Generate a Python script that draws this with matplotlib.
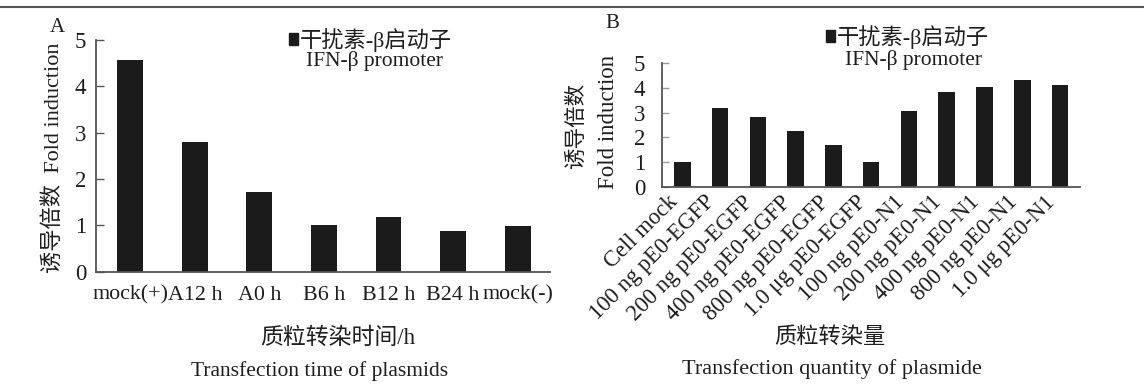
import matplotlib
matplotlib.use('Agg')
import matplotlib.pyplot as plt
from matplotlib.patches import Patch
from matplotlib.lines import Line2D
from matplotlib.transforms import ScaledTranslation

plt.rcParams['font.family'] = ['Liberation Serif', 'Noto Sans CJK SC']

# Panel A: transfection time
time_labels = ['mock(+)', 'A12 h', 'A0 h', 'B6 h', 'B12 h', 'B24 h', 'mock(-)']
time_values = [4.57, 2.80, 1.72, 1.00, 1.18, 0.87, 0.98]

# Panel B: transfection quantity
qty_labels = ['Cell mock', '100 ng pE0-EGFP', '200 ng pE0-EGFP', '400 ng pE0-EGFP',
              '800 ng pE0-EGFP', '1.0 μg pE0-EGFP', '100 ng pE0-N1', '200 ng pE0-N1',
              '400 ng pE0-N1', '800 ng pE0-N1', '1.0 μg pE0-N1']
qty_values = [1.01, 3.17, 2.81, 2.26, 1.69, 1.00, 3.08, 3.85, 4.03, 4.32, 4.12]

W, H = 1144, 388
TXT = '#1e1e1e'
BAR = '#1b1b1b'
AXC = '#555555'


def fx(px):
    return px / W


def fy(py):
    return 1 - py / H


def style_axes(ax, ypad, ysize):
    for s in ['top', 'right']:
        ax.spines[s].set_visible(False)
    for s in ['left', 'bottom']:
        ax.spines[s].set_color(AXC)
        ax.spines[s].set_linewidth(1.3)
    ax.set_ylim(0, 5)
    ax.set_yticks([0, 1, 2, 3, 4, 5])
    ax.tick_params(axis='y', direction='in', length=6, width=1.0, color=AXC,
                   pad=ypad, labelsize=ysize, labelcolor=TXT)
    ax.tick_params(axis='x', length=0, labelcolor=TXT)


fig = plt.figure(figsize=(W / 100, H / 100), dpi=100)
fig.patch.set_facecolor('white')

# rule at the top of the page
fig.add_artist(Line2D([0, 1], [fy(7), fy(7)], color='#555555', lw=1.5))

# ---- A ----
axA = fig.add_axes([fx(96), fy(271.7), fx(550 - 96), (271.7 - 40) / H])
xa = list(range(len(time_labels)))
axA.bar(xa, time_values, width=0.4, color=BAR)
axA.set_xlim(-0.53, 6.5)
style_axes(axA, ypad=7, ysize=16.5)
axA.set_xticks(xa)
axA.set_xticklabels(time_labels, fontsize=15.8)
axA.tick_params(axis='x', pad=10)

fig.text(fx(57), fy(27), 'A', fontsize=15, color=TXT, ha='center', va='center')
fig.text(fx(53), fy(158), '诱导倍数  Fold induction', rotation=90, fontsize=16,
         color=TXT, ha='center', va='center')
fig.text(fx(338), fy(338), '质粒转染时间/h', fontsize=16.5, color=TXT, ha='center', va='center')
fig.text(fx(320), fy(371), 'Transfection time of plasmids', fontsize=15.5, color=TXT,
         ha='center', va='center')

axA.legend(handles=[Patch(color=BAR)], labels=['干扰素-β启动子'], frameon=False,
           loc='center left', bbox_to_anchor=(fx(289), fy(40)),
           bbox_transform=fig.transFigure, prop={'size': 16},
           handlelength=0.4, handleheight=0.4, handletextpad=0.1,
           borderpad=0, borderaxespad=0, labelcolor=TXT)
fig.text(fx(374), fy(61), 'IFN-β promoter', fontsize=15.5, color=TXT, ha='center', va='center')

# ---- B ----
axB = fig.add_axes([fx(661.7), fy(186.5), fx(1080 - 661.7), (186.5 - 63.3) / H])
xb = list(range(len(qty_labels)))
axB.bar(xb, qty_values, width=0.44, color=BAR)
axB.set_xlim(-0.545, 10.53)
style_axes(axB, ypad=12, ysize=16.5)
axB.tick_params(axis='y', length=5, color='#9a9a9a')
axB.set_xticks(xb)
axB.set_xticklabels(qty_labels, fontsize=16.3, rotation=45, ha='right', va='center',
                    rotation_mode='anchor')
axB.tick_params(axis='x', pad=9)
shift = ScaledTranslation(-0.08, 0, fig.dpi_scale_trans)
for lab in axB.get_xticklabels():
    lab.set_transform(lab.get_transform() + shift)

fig.text(fx(612), fy(24), 'B', fontsize=15, color=TXT, ha='center', va='center')
fig.text(fx(577), fy(126), '诱导倍数', rotation=90, fontsize=15.5, color=TXT,
         ha='center', va='center')
fig.text(fx(609), fy(122), 'Fold induction', rotation=90, fontsize=16.5, color=TXT,
         ha='center', va='center')
fig.text(fx(830), fy(338), '质粒转染量', fontsize=16, color=TXT, ha='center', va='center')
fig.text(fx(832), fy(369), 'Transfection quantity of plasmide', fontsize=16, color=TXT,
         ha='center', va='center')

axB.legend(handles=[Patch(color=BAR)], labels=['干扰素-β启动子'], frameon=False,
           loc='center left', bbox_to_anchor=(fx(826), fy(37)),
           bbox_transform=fig.transFigure, prop={'size': 16},
           handlelength=0.4, handleheight=0.4, handletextpad=0.1,
           borderpad=0, borderaxespad=0, labelcolor=TXT)
fig.text(fx(913), fy(60), 'IFN-β promoter', fontsize=15.5, color=TXT, ha='center', va='center')

fig.savefig('out.png', dpi=100)
